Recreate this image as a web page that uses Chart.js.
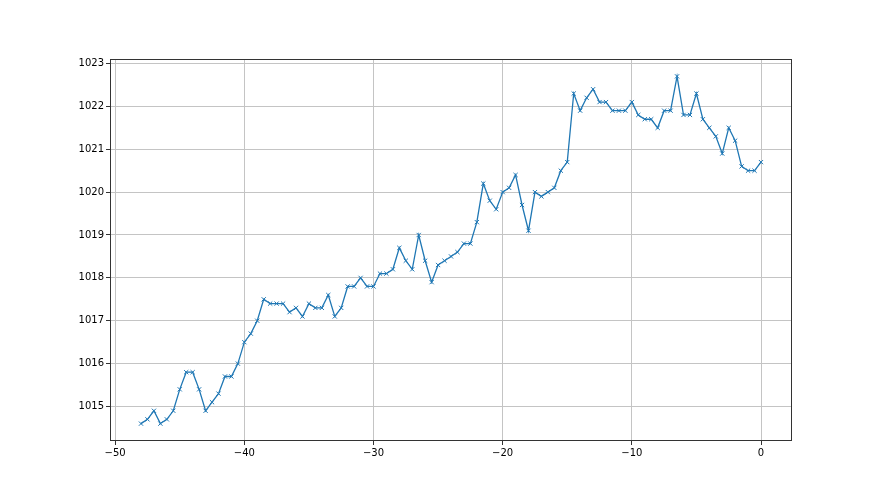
<!DOCTYPE html>
<html>
<head>
<meta charset="utf-8">
<script src="https://cdn.jsdelivr.net/npm/chart.js@4"></script>
<style>
  html, body { margin: 0; padding: 0; background: #fff; }
  #wrap { width: 880px; height: 495px; }
</style>
</head>
<body>
<div id="wrap"><canvas id="chart"></canvas></div>
<script>
// hours (x) and pressure readings (y)
const hours = [];
for (let i = 0; i < 97; i++) hours.push(-48 + i * 0.5);

const pressure = [
    1014.6, 1014.7, 1014.9, 1014.6, 1014.7, 1014.9, 1015.4, 1015.8, 1015.8, 1015.4,
    1014.9, 1015.1, 1015.3, 1015.7, 1015.7, 1016.0, 1016.5, 1016.7, 1017.0, 1017.5,
    1017.4, 1017.4, 1017.4, 1017.2, 1017.3, 1017.1, 1017.4, 1017.3, 1017.3, 1017.6,
    1017.1, 1017.3, 1017.8, 1017.8, 1018.0, 1017.8, 1017.8, 1018.1, 1018.1, 1018.2,
    1018.7, 1018.4, 1018.2, 1019.0, 1018.4, 1017.9, 1018.3, 1018.4, 1018.5, 1018.6,
    1018.8, 1018.8, 1019.3, 1020.2, 1019.8, 1019.6, 1020.0, 1020.1, 1020.4, 1019.7,
    1019.1, 1020.0, 1019.9, 1020.0, 1020.1, 1020.5, 1020.7, 1022.3, 1021.9, 1022.2,
    1022.4, 1022.1, 1022.1, 1021.9, 1021.9, 1021.9, 1022.1, 1021.8, 1021.7, 1021.7,
    1021.5, 1021.9, 1021.9, 1022.7, 1021.8, 1021.8, 1022.3, 1021.7, 1021.5, 1021.3,
    1020.9, 1021.5, 1021.2, 1020.6, 1020.5, 1020.5, 1020.7
];

const xTicks = [-50, -40, -30, -20, -10, 0];
const yTicks = [1015, 1016, 1017, 1018, 1019, 1020, 1021, 1022, 1023];

const points = hours.map((h, i) => ({ x: h, y: pressure[i] }));

// frame around the plot area, like matplotlib spines
const frame = {
    id: 'frame',
    afterDraw(chart) {
        const a = chart.chartArea;
        const ctx = chart.ctx;
        ctx.save();
        ctx.strokeStyle = '#333';
        ctx.lineWidth = 1;
        ctx.strokeRect(a.left + 0.5, a.top + 0.5, a.right - a.left - 1, a.bottom - a.top - 1);
        ctx.restore();
    }
};

const tickFont = { family: 'DejaVu Sans', size: 10 };

new Chart("chart", {
    type: "line",
    data: {
        datasets: [{
            data: points,
            borderColor: "#1f77b4",
            backgroundColor: "#1f77b4",
            borderWidth: 1.3,
            pointStyle: "crossRot",
            pointRadius: 3,
            pointBorderWidth: 1,
            pointHoverRadius: 3,
            tension: 0,
            fill: false
        }]
    },
    options: {
        responsive: true,
        maintainAspectRatio: false,
        animation: false,
        events: [],
        layout: { padding: { top: 59, right: 88, left: 0, bottom: 0 } },
        plugins: { legend: { display: false }, tooltip: { enabled: false } },
        scales: {
            x: {
                type: "linear",
                min: -50.4,
                max: 2.4,
                afterBuildTicks: s => { s.ticks = xTicks.map(v => ({ value: v })); },
                afterFit: s => { s.height = 54; },
                grid: { color: "#c4c4c4", lineWidth: 1, tickLength: 4, tickColor: "#333" },
                border: { display: false },
                ticks: { font: tickFont, color: "#000", padding: 2, maxRotation: 0,
                         callback: v => v < 0 ? "\u2212" + Math.abs(v) : String(v) }
            },
            y: {
                min: 1014.195,
                max: 1023.105,
                afterBuildTicks: s => { s.ticks = yTicks.map(v => ({ value: v })); },
                afterFit: s => { s.width = 110; },
                grid: { color: "#c4c4c4", lineWidth: 1, tickLength: 4, tickColor: "#333" },
                border: { display: false },
                ticks: { font: tickFont, color: "#000", padding: 2, callback: v => String(v) }
            }
        }
    },
    plugins: [frame]
});
</script>
</body>
</html>
